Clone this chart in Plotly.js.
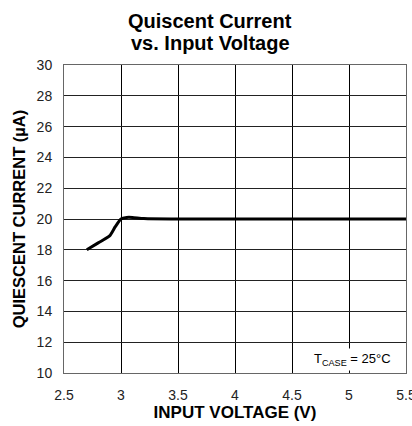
<!DOCTYPE html>
<html>
<head>
<meta charset="utf-8">
<script src="https://cdn.plot.ly/plotly-3.0.1.min.js"></script>
<style>html,body{margin:0;padding:0;background:#fff;}#chart{width:412px;height:426px;}</style>
</head>
<body>
<div id="chart"></div>
<script>
const inputVoltage = [2.7, 2.8, 2.9, 2.95, 3.0, 3.05, 3.1, 3.2, 3.5, 4.0, 4.5, 5.0, 5.5];
const quiescentCurrent = [18.0, 18.45, 18.9, 19.5, 20.0, 20.1, 20.1, 20.03, 20.0, 20.0, 20.0, 20.0, 20.0];
const xTicks = [2.5, 3, 3.5, 4, 4.5, 5, 5.5];
const yTicks = [10, 12, 14, 16, 18, 20, 22, 24, 26, 28, 30];
const titleLines = ['Quiscent Current', 'vs. Input Voltage'];

const FONT = 'Liberation Sans, Arial, sans-serif';

const trace = {
  x: inputVoltage, y: quiescentCurrent, mode: 'lines', type: 'scatter',
  line: {color: '#000', width: 3, shape: 'spline', smoothing: 0.6},
  hoverinfo: 'skip', showlegend: false
};

const layout = {
  width: 412, height: 426,
  margin: {l: 64, r: 6, t: 65, b: 53},
  paper_bgcolor: '#fff', plot_bgcolor: '#fff',
  font: {family: FONT, color: '#000'},
  xaxis: {
    range: [2.5, 5.5], tickvals: xTicks, ticktext: xTicks.map(String),
    showgrid: true, gridcolor: '#000', gridwidth: 1, zeroline: false,
    showline: true, linecolor: '#666', linewidth: 1, mirror: true,
    ticks: 'outside', ticklen: 9, tickcolor: 'rgba(0,0,0,0)',
    ticklabeloverflow: 'allow',
    tickfont: {size: 14, color: '#222', family: FONT},
    title: {text: '<b>INPUT VOLTAGE (V)</b>', font: {size: 17, color: '#000', family: FONT}, standoff: 2}
  },
  yaxis: {
    range: [10, 30], tickvals: yTicks, ticktext: yTicks.map(String),
    showgrid: true, gridcolor: '#222', gridwidth: 1, zeroline: false,
    showline: true, linecolor: '#666', linewidth: 1, mirror: true,
    ticks: 'outside', ticklen: 8, tickcolor: 'rgba(0,0,0,0)',
    tickfont: {size: 14, color: '#222', family: FONT},
    title: {text: '<b>QUIESCENT CURRENT (µA)</b>', font: {size: 16.5, color: '#000', family: FONT}, standoff: 6}
  },
  annotations: [
    {xref: 'paper', yref: 'paper', x: 0.427, y: 1.143, xanchor: 'center', yanchor: 'middle',
     text: '<b>' + titleLines[0] + '</b>', showarrow: false, font: {size: 20, color: '#000', family: FONT}},
    {xref: 'paper', yref: 'paper', x: 0.427, y: 1.072, xanchor: 'center', yanchor: 'middle',
     text: '<b>' + titleLines[1] + '</b>', showarrow: false, font: {size: 20, color: '#000', family: FONT}},
    {xref: 'x', yref: 'y', x: 5.03, y: 10.85, xanchor: 'center', yanchor: 'middle',
     text: 'T<sub>CASE</sub> = 25°C', showarrow: false, bgcolor: '#fff',
     font: {size: 13, color: '#000', family: FONT}, borderpad: 2}
  ]
};

Plotly.newPlot('chart', [trace], layout, {displayModeBar: false, staticPlot: true});
</script>
</body>
</html>
